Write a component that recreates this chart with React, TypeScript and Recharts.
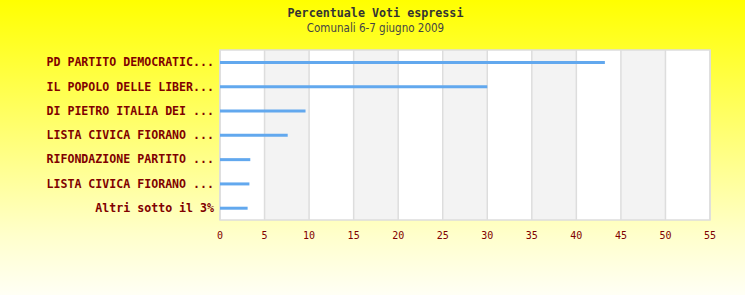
import React from 'react';
import { BarChart, Bar, XAxis, YAxis, CartesianGrid, ReferenceArea } from 'recharts';

const categories = [
  'PD PARTITO DEMOCRATIC...',
  'IL POPOLO DELLE LIBER...',
  'DI PIETRO ITALIA DEI ...',
  'LISTA CIVICA FIORANO ...',
  'RIFONDAZIONE PARTITO ...',
  'LISTA CIVICA FIORANO ...',
  'Altri sotto il 3%',
];
const values = [43.2, 30.0, 9.6, 7.6, 3.4, 3.3, 3.1];
const xTicks = [0, 5, 10, 15, 20, 25, 30, 35, 40, 45, 50, 55];
const title = 'Percentuale Voti espressi';
const subtitle = 'Comunali 6-7 giugno 2009';

const data = categories.map((c, i) => ({ key: `${i}`, name: c, value: values[i] }));

const W = 745;
const H = 295;

export default function App() {
  return (
    <div
      style={{
        position: 'fixed',
        top: 0,
        left: 0,
        width: W,
        height: H,
        background: 'linear-gradient(to bottom, #ffff00 0%, #ffff66 40%, #ffffcc 80%, #fffff5 100%)',
      }}
    >
      <div
        style={{
          position: 'absolute',
          top: 5,
          left: 0,
          width: W + 6,
          textAlign: 'center',
          fontFamily: '"DejaVu Sans Mono", monospace',
          fontWeight: 'bold',
          fontSize: 11.7,
          color: '#333333',
          lineHeight: '16px',
        }}
      >
        {title}
      </div>
      <div
        style={{
          position: 'absolute',
          top: 20,
          left: 0,
          width: W + 6,
          textAlign: 'center',
          fontFamily: '"DejaVu Sans Condensed", "DejaVu Sans", sans-serif',
          fontSize: 11.5,
          color: '#444444',
          lineHeight: '16px',
        }}
      >
        {subtitle}
      </div>
      <div style={{ position: 'absolute', top: 0, left: 0 }}>
        <BarChart
          width={W}
          height={H}
          data={data}
          layout="vertical"
          margin={{ top: 50, right: 35, bottom: 45, left: 0 }}
        >
          <CartesianGrid
            horizontal={false}
            stroke="#dddddd"
            strokeWidth={1.5}
            verticalFill={['#ffffff', '#f3f3f3']}
            fillOpacity={1}
          />
          <ReferenceArea x1={0} x2={55} fill="none" stroke="#dddddd" strokeWidth={1.5} ifOverflow="visible" />
          <XAxis
            type="number"
            domain={[0, 55]}
            ticks={xTicks}
            interval={0}
            axisLine={false}
            tickLine={false}
            tickMargin={6}
            height={30}
            tick={{ fill: '#800000', fontSize: 10, fontFamily: '"DejaVu Sans Mono", monospace' }}
          />
          <YAxis
            type="category"
            dataKey="key"
            width={220}
            axisLine={false}
            tickLine={false}
            tickMargin={0}
            interval={0}
            tickFormatter={(v: string) => categories[Number(v)]}
            tick={{ fill: '#800000', fontSize: 11.6, fontWeight: 'bold', fontFamily: '"DejaVu Sans Mono", monospace' }}
          />
          <Bar dataKey="value" fill="#62a8ee" barSize={3} isAnimationActive={false} />
        </BarChart>
      </div>
    </div>
  );
}
